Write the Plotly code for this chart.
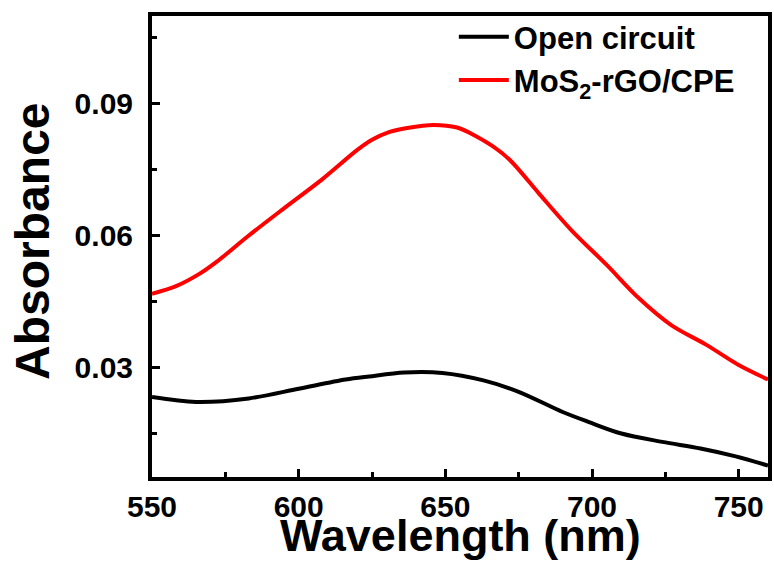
import plotly.graph_objects as go

wl_open = [550, 565, 583, 600, 616, 624, 636, 649, 663, 675, 690, 699, 710,
           724, 737, 749, 760]
abs_open = [0.0232, 0.0221, 0.0229, 0.0251, 0.0272, 0.0279, 0.0288, 0.0287, 0.0270,
            0.0244, 0.0198, 0.0175, 0.0149, 0.0130, 0.0115, 0.0097, 0.0076]

wl_mos = [550, 558, 566, 572, 583, 595, 608, 620, 625, 631, 637, 646, 654,
          660, 666, 672, 682, 693, 705, 716, 727, 739, 750, 760]
abs_mos = [0.0467, 0.0484, 0.0512, 0.0540, 0.0600, 0.0662, 0.0728,
           0.0795, 0.0818, 0.0836, 0.0845, 0.0852, 0.0846, 0.0828, 0.0804, 0.0772,
           0.0695, 0.0612, 0.0533, 0.0457, 0.0396, 0.0351, 0.0305, 0.0272]

x_ticks = [550, 600, 650, 700, 750]
y_ticks = [0.03, 0.06, 0.09]

FONT = "Liberation Sans, Arial, sans-serif"

fig = go.Figure()
fig.add_trace(go.Scatter(x=wl_open, y=abs_open, mode="lines", name="<b>Open circuit</b>",
                         line=dict(color="black", width=4, shape="spline", smoothing=0.9)))
fig.add_trace(go.Scatter(x=wl_mos, y=abs_mos, mode="lines", name="<b>MoS<sub>2</sub>-rGO/CPE</b>",
                         line=dict(color="#ff0000", width=4, shape="spline", smoothing=0.9)))

axis_common = dict(showline=True, linecolor="black", linewidth=4, mirror=True,
                   showgrid=False, zeroline=False, ticks="inside", ticklen=8,
                   tickwidth=3, tickcolor="black",
                   tickfont=dict(family=FONT, size=30, color="black"))

fig.update_xaxes(range=[550, 760], tickvals=x_ticks, ticktext=[f"<b>{v}</b>" for v in x_ticks],
                 minor=dict(ticks="inside", dtick=25, tick0=550, ticklen=5, tickwidth=3, tickcolor="black"),
                 ticklabelstandoff=0, **axis_common)
fig.update_yaxes(range=[0.005, 0.11], tickvals=y_ticks, ticktext=[f"<b>{v:.2f}</b>" for v in y_ticks],
                 minor=dict(ticks="inside", dtick=0.015, tick0=0, ticklen=5, tickwidth=3, tickcolor="black"),
                 ticklabelstandoff=9, **axis_common)

fig.add_annotation(text="<b>Wavelength (nm)</b>", xref="paper", yref="paper", x=0.5, y=0,
                   xanchor="center", yanchor="middle", yshift=-58, showarrow=False,
                   font=dict(family=FONT, size=45, color="black"))
fig.add_annotation(text="<b>Absorbance</b>", xref="paper", yref="paper", x=0, y=0.51,
                   xanchor="center", yanchor="middle", xshift=-119, textangle=-90,
                   showarrow=False, font=dict(family=FONT, size=48, color="black"))

fig.update_layout(
    width=774, height=563,
    margin=dict(l=152, r=6, t=16, b=86, autoexpand=False),
    paper_bgcolor="white", plot_bgcolor="white",
    showlegend=True,
    legend=dict(x=0.49, y=1.013, xanchor="left", yanchor="top", bgcolor="rgba(0,0,0,0)",
                font=dict(family=FONT, size=31, color="black"), itemwidth=50),
)

fig.write_html("out.html", post_script="document.body.style.margin='0px';",
               config={"displayModeBar": False})
